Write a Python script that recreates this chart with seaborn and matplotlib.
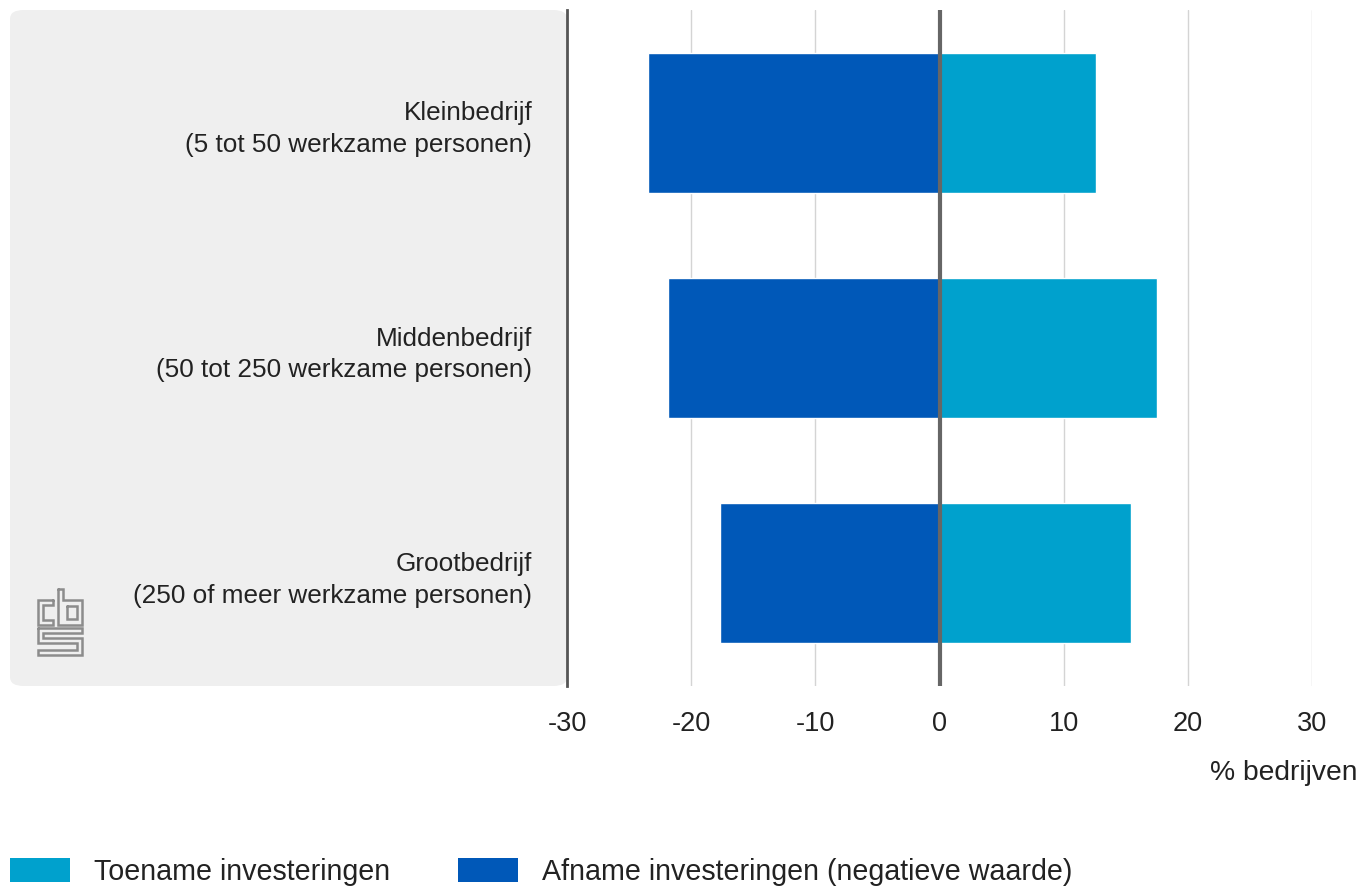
import numpy as np
import pandas as pd
import seaborn as sns
import matplotlib.pyplot as plt
from matplotlib.patches import FancyBboxPatch, Patch
from matplotlib.lines import Line2D

categories = [
    "Kleinbedrijf\n(5 tot 50 werkzame personen)",
    "Middenbedrijf\n(50 tot 250 werkzame personen)",
    "Grootbedrijf\n(250 of meer werkzame personen)",
]
toename = [12.6, 17.5, 15.4]
afname = [-23.5, -21.9, -17.7]
xticks = [-30, -20, -10, 0, 10, 20, 30]

LIGHT = "#00a1cd"
DARK = "#0058b8"
FS = 19.5

sns.set_theme(style="white")
plt.rcParams["font.family"] = ["Liberation Sans", "DejaVu Sans"]

df = pd.DataFrame({"categorie": categories, "toename": toename, "afname": afname})

fig = plt.figure(figsize=(13.7, 8.88), dpi=100)

# grey panel behind the category labels
panel = FancyBboxPatch((10 / 1370, 202 / 888), 557 / 1370, 676 / 888,
                       boxstyle="round,pad=0,rounding_size=0.01",
                       transform=fig.transFigure, facecolor="#efefef",
                       edgecolor="none", zorder=-5)
fig.patches.append(panel)

ax = fig.add_axes([567 / 1370, 202 / 888, 745 / 1370, 676 / 888])
ax.set_facecolor("none")

sns.barplot(data=df, y="categorie", x="afname", color=DARK, width=0.62,
            orient="h", ax=ax, zorder=3, saturation=1)
sns.barplot(data=df, y="categorie", x="toename", color=LIGHT, width=0.62,
            orient="h", ax=ax, zorder=3, saturation=1)

ax.set_xlim(-30, 30)
ax.set_ylim(2.5, -0.5)
ax.set_xticks(xticks)
ax.set_xticklabels([str(t) for t in xticks], fontsize=FS, color="#222222")
ax.tick_params(axis="x", length=0, pad=18)
ax.tick_params(axis="y", length=0, pad=25, labelsize=18.8, labelcolor="#222222")
for lbl in ax.get_yticklabels():
    lbl.set_horizontalalignment("right")
    lbl.set_linespacing(1.42)
ax.set_xlabel("")
ax.set_ylabel("")

for t in xticks[1:]:
    if t != 0:
        ax.axvline(t, color="#d4d4d4", lw=1, zorder=1)
ax.axvline(0, color="#666666", lw=3, zorder=4)

for side in ["top", "right", "bottom"]:
    ax.spines[side].set_visible(False)
ax.spines["left"].set_color("#555555")
ax.spines["left"].set_linewidth(2)

fig.text(1357 / 1370, 1 - 773 / 888, "% bedrijven", ha="right", va="center",
         fontsize=20.3, color="#222222")

# cbs logo, drawn as outlines in pixel units (x right, y down)
logo = [
    [(15, 11), (0, 11), (0, 36), (15, 36), (15, 31), (5, 31), (5, 16), (15, 16), (15, 11)],
    [(20, 0), (25, 0), (25, 11), (44, 11), (44, 36), (20, 36), (20, 0)],
    [(29, 17), (39, 17), (39, 30), (29, 30), (29, 17)],
    [(0, 39), (44, 39), (44, 44), (5, 44), (5, 49), (44, 49), (44, 66), (0, 66),
     (0, 61), (39, 61), (39, 54), (0, 54), (0, 39)],
]
for path in logo:
    xs = [(38 + p[0]) / 1370 for p in path]
    ys = [1 - (589 + p[1]) / 888 for p in path]
    fig.lines.append(Line2D(xs, ys, transform=fig.transFigure, color="#8c8c8c",
                            lw=1.8, solid_joinstyle="miter"))

handles = [Patch(facecolor=LIGHT, edgecolor="none"), Patch(facecolor=DARK, edgecolor="none")]
fig.legend(handles, ["Toename investeringen", "Afname investeringen (negatieve waarde)"],
           loc="lower left", bbox_to_anchor=(10 / 1370, 2 / 888), ncol=2, frameon=False,
           fontsize=20.6, handlelength=2.1, handleheight=0.9, handletextpad=0.85,
           columnspacing=2.35, labelcolor="#222222", borderaxespad=0, borderpad=0)

fig.savefig("out.png", dpi=100)
